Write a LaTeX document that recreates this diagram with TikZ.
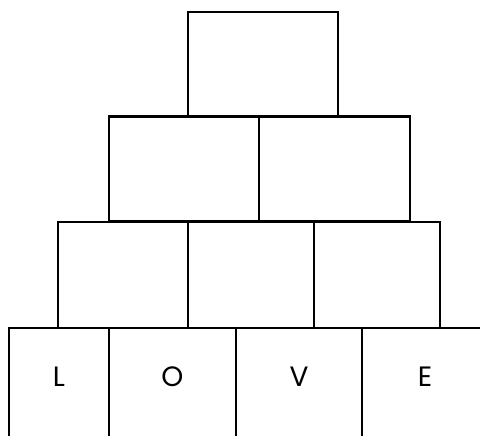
\documentclass[tikz,border=0pt]{standalone}
\usepackage{fontspec}
\newfontfamily\lovefont{Poppins}
\usepackage{tikz}

\begin{document}
\begin{tikzpicture}[x=1pt,y=-1pt,box/.style={draw,line width=2.6pt,inner sep=0pt,outer sep=0pt,minimum height=#1},
                    box/.default=105pt,letter/.style={font=\lovefont\fontsize{28}{30}\selectfont,inner sep=0pt}]

\useasboundingbox (0,0) rectangle (480,436);
\clip (0,0) rectangle (480,436);

% top
\node [box,minimum width=150pt] (top) at (263,64.5) {};

% second row
\node [box,minimum width=150pt] (r2a) at (184,169) {};
\node [box,minimum width=151pt] (r2b) at (334.5,169) {};

% third row
\node [box=106pt,minimum width=130pt] (r3a) at (123,275) {};
\node [box=106pt,minimum width=126pt] (r3b) at (251,275) {};
\node [box=106pt,minimum width=126pt] (r3c) at (377,275) {};

% bottom row (cut off at the edge)
\node [box=112pt,minimum width=100pt] (r4a) at (59,384) {};
\node [box=112pt,minimum width=127pt] (r4b) at (172.5,384) {};
\node [box=112pt,minimum width=126pt] (r4c) at (299,384) {};
\node [box=112pt,minimum width=126pt] (r4d) at (425,384) {};

\node [letter] (l) at (59,377) {L};
\node [letter] (o) at (172.5,377) {O};
\node [letter] (v) at (299,377) {V};
\node [letter] (e) at (425,377) {E};

\end{tikzpicture}
\end{document}
